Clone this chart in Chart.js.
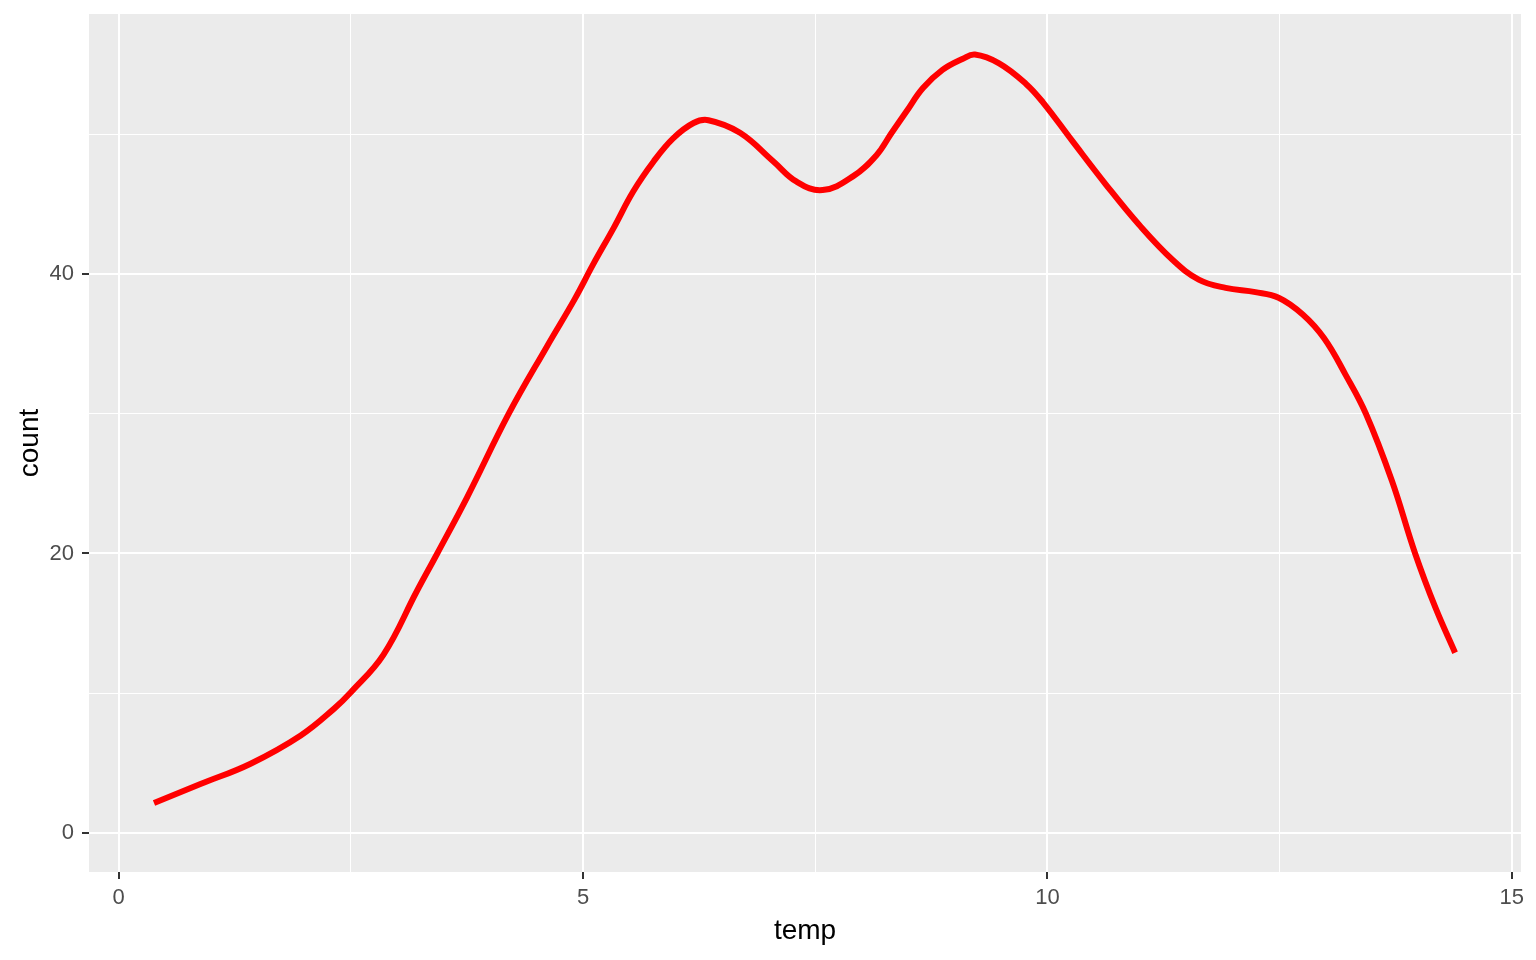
<!DOCTYPE html>
<html>
<head>
<meta charset="utf-8">
<script src="https://cdn.jsdelivr.net/npm/chart.js@4.4.1/dist/chart.umd.min.js"></script>
<style>
  html, body { margin: 0; padding: 0; background: #fff; }
</style>
</head>
<body>
<canvas id="myChart" width="1536" height="960"></canvas>
<script>
// temp vs count
const temp = [0.38, 0.88, 1.42, 1.96, 2.32, 2.5, 2.85, 3.21, 3.43, 3.75, 4.2, 4.61, 4.91, 5.11, 5.33, 5.54, 5.76, 5.97, 6.19, 6.35, 6.69, 7.05, 7.3, 7.58, 7.91, 8.16, 8.32, 8.48, 8.66, 8.87, 9.09, 9.22, 9.48, 9.77, 9.95, 10.27, 10.63, 10.99, 11.35, 11.63, 11.92, 12.24, 12.49, 12.75, 12.98, 13.21, 13.43, 13.71, 13.96, 14.18, 14.39];
const count = [2.14, 3.5, 4.96, 6.98, 8.9, 10.07, 12.75, 17.3, 20.0, 24.0, 30.0, 34.8, 38.2, 40.7, 43.3, 45.9, 48.05, 49.7, 50.8, 51.0, 50.1, 48.05, 46.6, 46.0, 47.0, 48.5, 50.07, 51.6, 53.3, 54.6, 55.4, 55.7, 55.07, 53.6, 52.3, 49.5, 46.4, 43.5, 41.0, 39.6, 39.0, 38.7, 38.3, 37.1, 35.4, 32.8, 30.0, 25.2, 20.0, 16.1, 12.9];
const xTicks = [0, 5, 10, 15];
const yTicks = [0, 20, 40];

const points = temp.map((t, i) => ({ x: t, y: count[i] }));

const panelBg = {
  id: 'panelBg',
  beforeDraw(chart) {
    const { ctx, chartArea: a } = chart;
    ctx.save();
    ctx.fillStyle = '#EBEBEB';
    ctx.fillRect(a.left, a.top, a.right - a.left, a.bottom - a.top);
    ctx.restore();
  }
};

const isMajor = (list, v) => list.some(m => Math.abs(m - v) < 1e-6);

const ctx = document.getElementById('myChart');

new Chart(ctx, {
  type: 'line',
  data: {
    datasets: [{
      data: points,
      borderColor: '#FF0000',
      borderWidth: 6,
      pointRadius: 0,
      fill: false,
      tension: 0.4,
      borderCapStyle: 'butt',
      borderJoinStyle: 'round'
    }]
  },
  plugins: [panelBg],
  options: {
    responsive: false,
    animation: false,
    devicePixelRatio: 1,
    layout: { padding: { top: 14, right: 15, left: 0, bottom: 0 } },
    plugins: { legend: { display: false }, tooltip: { enabled: false } },
    scales: {
      x: {
        type: 'linear',
        min: -0.32,
        max: 15.1,
        afterFit(scale) {
          scale.height = 88;
          scale.paddingLeft = 0;
          scale.paddingRight = 0;
        },
        border: { display: false },
        grid: {
          color: '#FFFFFF',
          lineWidth: c => (c.tick && isMajor(xTicks, c.tick.value)) ? 2 : 1,
          tickColor: c => (c.tick && isMajor(xTicks, c.tick.value)) ? '#333333' : 'rgba(0,0,0,0)',
          tickLength: 7,
          drawTicks: true
        },
        ticks: {
          stepSize: 2.5,
          includeBounds: false,
          autoSkip: false,
          maxRotation: 0,
          padding: 6,
          color: '#4D4D4D',
          font: { family: 'Liberation Sans', size: 22 },
          callback: v => isMajor(xTicks, v) ? v : ''
        },
        title: {
          display: true,
          text: 'temp',
          color: '#000000',
          font: { family: 'Liberation Sans', size: 28 },
          padding: { top: 0, bottom: 12 }
        }
      },
      y: {
        type: 'linear',
        min: -2.79,
        max: 58.6,
        afterFit(scale) {
          scale.width = 89;
          scale.paddingTop = 0;
          scale.paddingBottom = 0;
        },
        border: { display: false },
        grid: {
          color: '#FFFFFF',
          lineWidth: c => (c.tick && isMajor(yTicks, c.tick.value)) ? 2 : 1,
          tickColor: c => (c.tick && isMajor(yTicks, c.tick.value)) ? '#333333' : 'rgba(0,0,0,0)',
          tickLength: 7,
          drawTicks: true
        },
        ticks: {
          stepSize: 10,
          includeBounds: false,
          autoSkip: false,
          padding: 8,
          color: '#4D4D4D',
          font: { family: 'Liberation Sans', size: 22 },
          callback: v => isMajor(yTicks, v) ? v : ''
        },
        title: {
          display: true,
          text: 'count',
          color: '#000000',
          font: { family: 'Liberation Sans', size: 28 },
          padding: { top: 13, bottom: 0 }
        }
      }
    }
  }
});
</script>
</body>
</html>
